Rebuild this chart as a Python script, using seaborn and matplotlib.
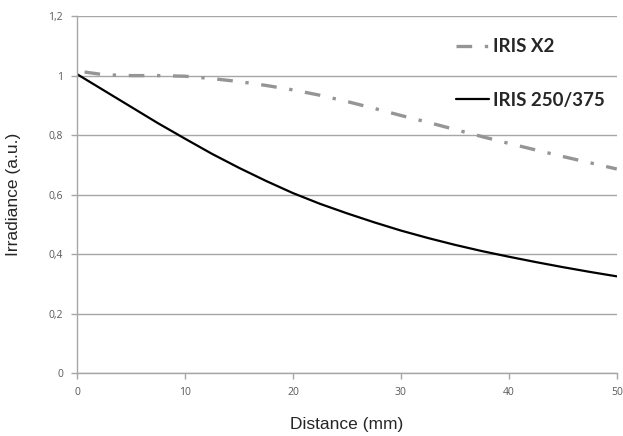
import numpy as np
import pandas as pd
import seaborn as sns
import matplotlib
matplotlib.use("Agg")
import matplotlib.pyplot as plt
from matplotlib.ticker import FuncFormatter

# values
dist_x2 = [0.7, 2.5, 5, 7.5, 10, 12.5, 15, 17.5, 20, 22.5, 25,
           27.5, 30, 32.5, 35, 37.5, 40, 42.5, 45, 47.5, 50]
irr_x2 = [1.012, 1.003, 1.0, 1.0, 0.998, 0.99, 0.98, 0.967, 0.952, 0.934, 0.913,
          0.89, 0.866, 0.843, 0.819, 0.795, 0.772, 0.75, 0.728, 0.707, 0.686]

dist_250 = [0, 2.5, 5, 7.5, 10, 12.5, 15, 17.5, 20, 22.5, 25,
            27.5, 30, 32.5, 35, 37.5, 40, 42.5, 45, 47.5, 50]
irr_250 = [1.005, 0.95, 0.895, 0.84, 0.788, 0.737, 0.69, 0.646, 0.605, 0.569, 0.537,
           0.507, 0.479, 0.454, 0.431, 0.41, 0.391, 0.373, 0.356, 0.34, 0.325]

x_ticks = [0, 10, 20, 30, 40, 50]
y_ticks = [0, 0.2, 0.4, 0.6, 0.8, 1.0, 1.2]

df_x2 = pd.DataFrame({"Distance": dist_x2, "Irradiance": irr_x2})
df_250 = pd.DataFrame({"Distance": dist_250, "Irradiance": irr_250})

sns.set_style("white")
plt.rcParams['font.family'] = ['Liberation Sans', 'DejaVu Sans']

fig = plt.figure(figsize=(6.23, 4.36), dpi=100)
ax = fig.add_axes([0.1236, 0.1445, 0.8664, 0.8185])

sns.lineplot(data=df_x2, x="Distance", y="Irradiance", ax=ax, color="#959595",
             lw=2.4, linestyle=(0, (4.7, 3.8, 1.0, 3.8)), label="IRIS X2")
sns.lineplot(data=df_250, x="Distance", y="Irradiance", ax=ax, color="black",
             lw=1.6, label="IRIS 250/375")

ax.set_xlim(0, 50)
ax.set_ylim(0, 1.2)
ax.set_xticks(x_ticks)
ax.set_yticks(y_ticks)
ax.yaxis.set_major_formatter(FuncFormatter(lambda v, p: ("%g" % round(v, 1)).replace(".", ",")))
ax.yaxis.grid(True, color="#a6a6a6", lw=1)
ax.xaxis.grid(False)
ax.set_axisbelow(True)

for s in ["top", "right"]:
    ax.spines[s].set_visible(False)
for s in ["left", "bottom"]:
    ax.spines[s].set_color("#a6a6a6")
    ax.spines[s].set_linewidth(1)

ax.tick_params(axis="both", which="major", length=4, width=1, color="#a6a6a6",
               labelsize=7.5, labelcolor="#595959", direction="out", pad=6)
ax.tick_params(left=True, bottom=True)
for lab in ax.get_xticklabels() + ax.get_yticklabels():
    lab.set_family(["Open Sans", "DejaVu Sans"])

ax.set_xlabel("Distance (mm)", fontsize=12.5, labelpad=14)
ax.set_ylabel("Irradiance (a.u.)", fontsize=12.5, labelpad=20)

leg = ax.legend(loc="upper left", bbox_to_anchor=(0.67, 0.985), frameon=False,
                handlelength=1.8, handletextpad=0.2, labelspacing=1.95,
                prop={"family": ["Lato", "DejaVu Sans"], "weight": "bold", "size": 13.5})

fig.savefig("out.png", dpi=100)
